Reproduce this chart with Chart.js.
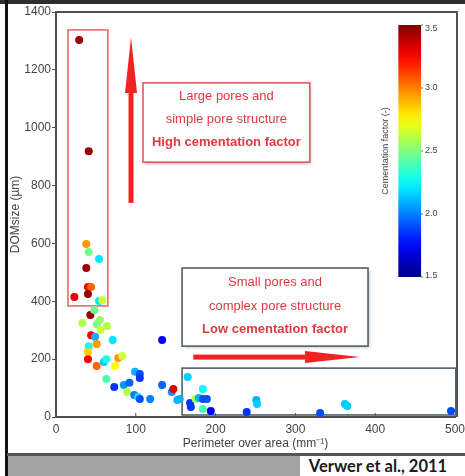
<!DOCTYPE html>
<html>
<head>
<meta charset="utf-8">
<script src="https://cdn.jsdelivr.net/npm/chart.js@4"></script>
<style>
  body { margin: 0; background: #fff; }
  #wrap { position: relative; width: 465px; height: 476px; overflow: hidden; background: #fff; }
  #topBand { position: absolute; left: 0; top: 0; width: 465px; height: 4px; background: #2e2e2e; }
  #leftBar { position: absolute; left: 5px; top: 0; width: 3px; height: 476px; background: #111; }
  #bottomLine { position: absolute; left: 7px; top: 453px; width: 458px; height: 3px; background: #555; }
  #grayBand { position: absolute; left: 8px; top: 456px; width: 292px; height: 20px; background: #a3a3a3; }
  #credit { position: absolute; left: 300px; top: 456px; width: 156px; height: 20px; line-height: 20px;
            text-align: center; font: bold 16.5px Lato, "Open Sans", sans-serif; color: #1a1a1a; }
  canvas { position: absolute; left: 0; top: 0; }
</style>
</head>
<body>
<div id="wrap">
  <div id="topBand"></div>
  <div id="leftBar"></div>
  <div id="bottomLine"></div>
  <div id="grayBand"></div>
  <div id="credit">Verwer et al., 2011</div>
  <canvas id="poreChart" width="465" height="476"></canvas>
</div>
<script>
// perimeter over area (mm^-1), DOMsize (um), cementation factor (-)
const perimeterOverArea = [29, 41, 38, 41, 54, 38, 40, 44, 23, 40, 54, 58, 43, 48, 33, 55, 51, 64, 56, 44,
  49, 71, 133, 41, 51, 40, 40, 51, 60, 63, 78, 83, 74, 63, 73, 85, 92, 99, 105, 105,
  89, 98, 103, 105, 118, 133, 145, 147, 152, 155, 165, 168, 169, 175, 179, 184, 184, 189, 184, 194,
  239, 251, 252, 331, 362, 365, 495];
const domSize = [1303, 919, 598, 570, 546, 515, 449, 449, 415, 425, 401, 404, 353, 370, 325, 335, 321, 315, 301, 283,
  277, 266, 266, 245, 252, 225, 200, 176, 190, 200, 204, 211, 176, 131, 104, 111, 118, 156, 149, 135,
  86, 76, 69, 62, 62, 111, 86, 97, 59, 62, 138, 48, 35, 62, 66, 97, 62, 62, 28, 21,
  17, 59, 45, 14, 45, 38, 21];
const cementation = [3.45, 3.45, 2.95, 2.48, 2.2, 3.45, 3.25, 3.05, 3.3, 3.45, 2.2, 2.65, 3.45, 2.45, 2.6, 2.55, 2.5, 2.6, 2.65, 3.25,
  2.1, 2.2, 1.75, 2.3, 2.95, 2.85, 3.25, 3.05, 2.15, 2.3, 2.95, 2.65, 2.75, 2.4, 1.85, 2.05, 1.95, 2.1, 1.9, 1.85,
  2.6, 2.0, 2.2, 1.9, 2.0, 1.95, 2.05, 3.3, 2.1, 2.1, 2.15, 1.85, 1.85, 2.6, 2.1, 2.25, 1.9, 1.9, 2.4, 1.75,
  1.85, 2.1, 2.15, 1.9, 2.15, 2.15, 1.9];

const colorbarTicks = [1.5, 2.0, 2.5, 3.0, 3.5];
const cMin = 1.5, cMax = 3.5;

Chart.defaults.font.family = '"Liberation Sans", Arial, sans-serif';

function jet(v) {
  const t = Math.min(1, Math.max(0, (v - cMin) / (cMax - cMin)));
  const f = k => Math.round(255 * Math.min(1, Math.max(0, 1.5 - Math.abs(4 * t - k))));
  return 'rgb(' + f(3) + ',' + f(2) + ',' + f(1) + ')';
}

const points = perimeterOverArea.map((x, i) => ({ x: x, y: domSize[i] }));
const pointColors = cementation.map(jet);

const axisColor = '#505050';
const textColor = '#444';
const red = '#f22222';

function box(ctx, x0, y0, x1, y1, color, shadow) {
  ctx.save();
  if (shadow) {
    ctx.shadowColor = 'rgba(0,0,0,0.25)';
    ctx.shadowBlur = 3;
    ctx.shadowOffsetX = 1.5;
    ctx.shadowOffsetY = 1.5;
    ctx.fillStyle = '#fff';
    ctx.fillRect(x0, y0, x1 - x0, y1 - y0);
    ctx.shadowColor = 'transparent';
  }
  ctx.strokeStyle = color;
  ctx.lineWidth = 1.6;
  ctx.strokeRect(x0, y0, x1 - x0, y1 - y0);
  ctx.restore();
}

const annotations = {
  id: 'annotations',
  beforeDatasetsDraw(chart) {
    const ctx = chart.ctx;
    const xs = chart.scales.x, ys = chart.scales.y;
    const px = v => xs.getPixelForValue(v), py = v => ys.getPixelForValue(v);
    const area = chart.chartArea;

    // frame top and right
    ctx.save();
    ctx.strokeStyle = axisColor;
    ctx.lineWidth = 2;
    ctx.beginPath();
    ctx.moveTo(area.left, area.top);
    ctx.lineTo(area.right + 2, area.top);
    ctx.lineTo(area.right + 2, area.bottom);
    ctx.stroke();
    // inward x ticks
    ctx.lineWidth = 1;
    [100, 200, 300, 400].forEach(v => {
      ctx.beginPath();
      ctx.moveTo(px(v), area.bottom);
      ctx.lineTo(px(v), area.bottom - 4);
      ctx.stroke();
    });
    ctx.restore();

    // tall red box around high values
    box(ctx, px(15), py(1338), px(65), py(384), '#e86a6a', false);
    // lower box for small pores
    box(ctx, px(158), py(169), px(501), py(7), '#4f6070', false);

    // up arrow
    ctx.save();
    ctx.fillStyle = red;
    const ax = px(94);
    ctx.fillRect(ax - 2.5, py(1120), 5, py(740) - py(1120));
    ctx.beginPath();
    ctx.moveTo(ax, py(1313));
    ctx.lineTo(ax + 6, py(1120));
    ctx.lineTo(ax - 6, py(1120));
    ctx.closePath();
    ctx.fill();
    // right arrow
    const ay = py(207);
    ctx.fillRect(px(172), ay - 2.5, px(312) - px(172), 5);
    ctx.beginPath();
    ctx.moveTo(px(381), ay);
    ctx.lineTo(px(312), ay - 6);
    ctx.lineTo(px(312), ay + 6);
    ctx.closePath();
    ctx.fill();
    ctx.restore();

    // text boxes
    box(ctx, px(109), py(1155), px(318), py(881), '#e05a5e', true);
    box(ctx, px(158), py(515), px(391), py(245), '#4f6070', true);

    ctx.save();
    ctx.fillStyle = '#e0393e';
    ctx.textAlign = 'center';
    ctx.textBaseline = 'middle';
    const c1 = (px(109) + px(318)) / 2;
    const t1 = py(1155);
    ctx.font = '13px "Liberation Sans", Arial, sans-serif';
    ctx.fillText('Large pores and', c1, t1 + 14);
    ctx.fillText('simple pore structure', c1, t1 + 37);
    ctx.font = 'bold 13px "Liberation Sans", Arial, sans-serif';
    ctx.fillText('High cementation factor', c1, t1 + 60);
    const c2 = (px(158) + px(391)) / 2;
    const t2 = py(515);
    ctx.font = '13px "Liberation Sans", Arial, sans-serif';
    ctx.fillText('Small pores and', c2, t2 + 14);
    ctx.fillText('complex pore structure', c2, t2 + 38);
    ctx.font = 'bold 13px "Liberation Sans", Arial, sans-serif';
    ctx.fillText('Low cementation factor', c2, t2 + 61);
    ctx.restore();

    // colorbar
    const cx0 = px(429), cx1 = px(457.5), cyTop = py(1355), cyBot = py(484);
    const grad = ctx.createLinearGradient(0, cyBot, 0, cyTop);
    for (let i = 0; i <= 20; i++) {
      grad.addColorStop(i / 20, jet(cMin + (cMax - cMin) * i / 20));
    }
    ctx.save();
    ctx.fillStyle = grad;
    ctx.fillRect(cx0, cyTop, cx1 - cx0, cyBot - cyTop);
    ctx.fillStyle = textColor;
    ctx.strokeStyle = '#666';
    ctx.lineWidth = 1;
    ctx.font = '9px "Liberation Sans", Arial, sans-serif';
    ctx.textAlign = 'left';
    ctx.textBaseline = 'middle';
    colorbarTicks.forEach(v => {
      const y = cyBot - (v - cMin) / (cMax - cMin) * (cyBot - cyTop);
      ctx.beginPath();
      ctx.moveTo(cx1, y);
      ctx.lineTo(cx1 + 2, y);
      ctx.stroke();
      ctx.fillText(v.toFixed(1), cx1 + 4, y + (v === cMax ? 3 : v === cMin ? -1 : 0));
    });
    ctx.translate(cx0 - 13, (cyTop + cyBot) / 2);
    ctx.rotate(-Math.PI / 2);
    ctx.textAlign = 'center';
    ctx.fillText('Cementation factor (-)', 0, 0);
    ctx.restore();
  }
};

new Chart(document.getElementById('poreChart').getContext('2d'), {
  type: 'scatter',
  data: {
    datasets: [{
      data: points,
      backgroundColor: pointColors,
      borderWidth: 0,
      pointRadius: 4,
      pointHoverRadius: 4
    }]
  },
  options: {
    responsive: false,
    animation: false,
    layout: { padding: { left: 8, top: 12, right: 10, bottom: 25 } },
    scales: {
      x: {
        type: 'linear',
        min: 0,
        max: 500,
        afterFit: s => { s.height = 34; s.paddingRight = 0; s.paddingLeft = 0; },
        border: { color: axisColor, width: 2 },
        grid: { display: false, drawTicks: false },
        ticks: { stepSize: 100, padding: 5, color: textColor, font: { size: 12 },
                 callback: v => String(v) },
        title: { display: true, text: 'Perimeter over area (mm\u207B\u00B9)', color: textColor, padding: 0,
                 font: { size: 12 } }
      },
      y: {
        min: 0,
        max: 1400,
        afterFit: s => { s.width = 48; s.paddingTop = 0; s.paddingBottom = 0; },
        border: { color: axisColor, width: 2 },
        grid: { drawOnChartArea: false, tickLength: 4, color: axisColor },
        ticks: { stepSize: 200, padding: 1, color: textColor, font: { size: 12 },
                 callback: v => String(v) },
        title: { display: true, text: 'DOMsize (\u00B5m)', color: textColor, padding: 0,
                 font: { size: 12 } }
      }
    },
    plugins: {
      legend: { display: false },
      tooltip: { enabled: false }
    }
  },
  plugins: [annotations]
});
</script>
</body>
</html>
